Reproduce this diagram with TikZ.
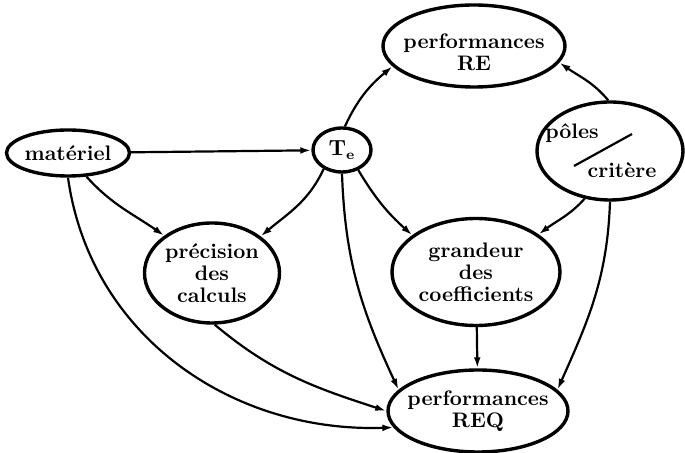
\documentclass[tikz,border=0pt]{standalone}
\usetikzlibrary{shapes.geometric,arrows.meta}
\tikzset{
  etat/.style={
    ellipse,
    draw,
    line width=1.7pt,
    inner sep=0mm
  },
  texte/.style={
    font=\fontsize{10.5}{11}\selectfont\bfseries,
    align=center,
    inner sep=0mm
  },
  lien/.style={
    -{Latex[length=5.5pt,width=3.4pt]},
    line width=1.1pt
  }
}

\begin{document}
\begin{tikzpicture}[x=0.5pt,y=0.5pt]
    \useasboundingbox (0,0) rectangle (685,-453);
    % les etats
    \node[etat,minimum width=61.5pt,minimum height=23pt] (mat) at (68,-153) {};
    \node[etat,minimum width=29pt,minimum height=22pt] (te) at (342,-150) {};
    \node[etat,minimum width=91pt,minimum height=41pt] (re) at (474,-46) {};
    \node[etat,minimum width=73pt,minimum height=49pt] (pol) at (610,-151) {};
    \node[etat,minimum width=67.5pt,minimum height=50pt] (pre) at (212,-273) {};
    \node[etat,minimum width=84pt,minimum height=53.5pt] (gra) at (476,-272) {};
    \node[etat,minimum width=90pt,minimum height=41pt] (req) at (478,-411) {};
    % les textes
    \node[texte] (matT) at (mat) {matériel};
    \node[texte] (teT) at (te) {$\mathbf{T}_{\mathbf{e}}$};
    \node[texte] (reT) at (474,-52) {performances\\RE};
    \node[texte] (polA) at (572,-133) {pôles};
    \node[texte] (polB) at (622,-170) {critère};
    \draw[line width=1.1pt] (574,-166) -- (632,-134);
    \node[texte] (preT) at (pre) {précision\\des\\calculs};
    \node[texte] (graT) at (gra) {grandeur\\des\\coefficients};
    \node[texte] (reqT) at (req) {performances\\REQ};
    % les liens
    \draw[lien] (mat) -- (te);
    \draw[lien] (mat.-52) to[out=-48,in=145] (pre.142);
    \draw[lien] (mat.-90) to[out=-82,in=182] (req.-169);
    \draw[lien] (te.83) to[out=65,in=220] (re.194);
    \draw[lien] (te.-134) to[out=-115,in=40] (pre.37);
    \draw[lien] (te.-90) to[out=-88,in=115] (req.165);
    \draw[lien] (te.-51) to[out=-59,in=138] (gra.150);
    \draw[lien] (pol.92) to[out=130,in=-35] (re.-11);
    \draw[lien] (pol.-118) to[out=-132,in=37] (gra.31);
    \draw[lien] (pol.-90) to[out=-92,in=66] (req.15);
    \draw[lien] (gra) -- (req);
    \draw[lien] (pre.-87) to[out=-40,in=162] (req.180);
\end{tikzpicture}
\end{document}
